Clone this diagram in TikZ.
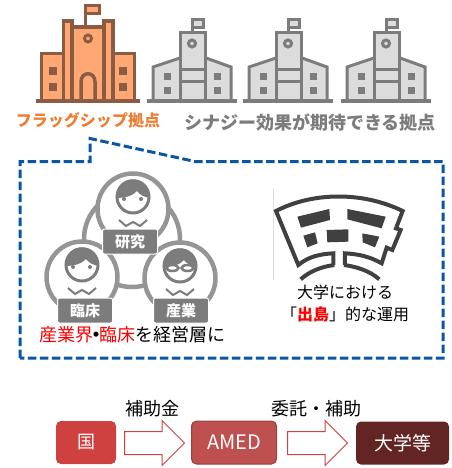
\documentclass[tikz,border=0pt]{standalone}
\usepackage{fontspec}
\setmainfont{Noto Sans CJK JP}
\usetikzlibrary{shapes.arrows}

\definecolor{hubfill}{HTML}{FFA873}
\definecolor{hubline}{HTML}{8B5B43}
\definecolor{hubtext}{HTML}{ED7D31}
\definecolor{subfill}{HTML}{DCDCDC}
\definecolor{subline}{HTML}{7C7C7C}
\definecolor{ringgray}{HTML}{959595}
\definecolor{calloutblue}{HTML}{0B55A5}
\definecolor{flagred}{HTML}{CF4040}
\definecolor{amedred}{HTML}{BE5050}
\definecolor{darkred}{HTML}{632523}

\tikzset{
    rolebox/.style={fill=subline,draw=white,line width=1pt,rounded corners=2pt,minimum width=55pt,minimum height=25pt,inner sep=0pt,text=white,font=\fontsize{15}{18}\selectfont\bfseries},
    flowbox/.style={rounded corners=5pt,inner sep=0pt,minimum height=43pt,text=white},
    flowarrow/.style={shape=single arrow,draw=flagred,fill=white,line width=1pt,minimum height=60pt,single arrow head extend=11pt,inner sep=0pt,anchor=west}
}

\begin{document}
\begin{tikzpicture}[x=1pt,y=-1pt,line join=miter]
\useasboundingbox (0,0) rectangle (451,468);

% Flagship building
\fill[hubfill] (40,53) rectangle (136,100);
\draw[hubline,line width=3.5pt,fill=hubfill] (41.5,100) -- (41.5,53.5) -- (134.5,53.5) -- (134.5,100);
\draw[hubline,line width=3.5pt,fill=hubfill] (63.5,100) -- (63.5,21) -- (72,21) -- (72,100);
\draw[hubline,line width=3.5pt,fill=hubfill] (104,100) -- (104,21) -- (113,21) -- (113,100);
\draw[hubline,line width=3.5pt,fill=hubfill] (72,100) -- (72,27) -- (104,27) -- (104,100);
\draw[hubline,line width=3pt] (85.5,27) -- (85.5,6);
\draw[hubline,line width=3pt,fill=hubfill] (85.5,6) rectangle (99,14);
\draw[hubline,line width=3pt] (88,38.5) circle[radius=3.5];
\draw[hubline,line width=3.5pt] (81,100) -- (81,82) .. controls (81,71) and (95,71) .. (95,82) -- (95,100);
\foreach \x in {49,119} {
    \fill[hubline] (\x,67) rectangle (\x+8,75);
    \fill[hubline] (\x,83) rectangle (\x+8,91.5);
}
\fill[hubline] (36,99) rectangle (140,103);

% Synergy buildings
\foreach \x in {0,96,194} {
    \begin{scope}[shift={(\x,0)}]
    \draw[subline,line width=3pt,fill=subfill] (153,100) -- (153,67) -- (180,58) -- (206,58) -- (231,67) -- (231,100);
    \draw[subline,line width=3pt,fill=subfill] (180,100) -- (180,33) -- (205,33) -- (205,100);
    \draw[subline,line width=3pt] (180,69.5) -- (205,69.5);
    \draw[subline,line width=3pt] (180,81.5) -- (205,81.5);
    \draw[subline,line width=3pt] (192.5,33) -- (192.5,19);
    \draw[subline,line width=3pt,fill=subfill] (192.5,19.5) rectangle (203,28);
    \draw[subline,line width=3pt] (192,43.5) circle[radius=3.5];
    \fill[subline] (164,73) rectangle (171,80);
    \fill[subline] (164,87.5) rectangle (171,94.5);
    \fill[subline] (214,73) rectangle (221,80);
    \fill[subline] (214,87.5) rectangle (221,94.5);
    \fill[subline] (147,99) rectangle (237,103);
    \end{scope}
}

% Site labels
\node[text=hubtext,font=\fontsize{16}{20}\selectfont\bfseries] (flagship) at (88,120) {フラッグシップ拠点};
\node[text=subline,font=\fontsize{18}{22}\selectfont\bfseries] (synergy) at (310,122) {シナジー効果が期待できる拠点};

% Callout
\draw[calloutblue,line width=3pt,dash pattern=on 8.5pt off 3.5pt] (20,358) -- (20,161.5) -- (90,161.5) -- (90,138.5) -- (195,161.5) -- (443,161.5) -- (443,358) -- cycle;

% Linking ring behind the people
\draw[ringgray,line width=4.5pt] (132,239) circle[radius=48];

% People
\foreach \x/\y in {133/209,82/277,180/278} {
    \begin{scope}[shift={(\x,\y)}]
    \draw[ringgray,line width=4.5pt,fill=white] (0,0) circle[radius=35.5];
    \draw[subline,line width=3pt,fill=white] (0,-12) circle[radius=16];
    \fill[subline] (-17,-11) .. controls (-18,-36) and (18,-36) .. (17,-11) .. controls (11,-12) and (7,-14) .. (4,-18) .. controls (0,-13) and (-9,-11) .. (-17,-11);
    \draw[subline,line width=2pt] (-14,11) -- (-7,17) -- (0,13) -- (7,17) -- (14,11);
    \end{scope}
}
% Eyes, the third person has glasses
\foreach \x/\y in {124/199,141/199,73/267,90/267} {
    \fill[subline] (\x,\y) circle[radius=2];
}
\draw[subline,line width=2.5pt,fill=white] (172.5,268) ellipse[x radius=6,y radius=3];
\draw[subline,line width=2.5pt,fill=white] (187.5,268) ellipse[x radius=6,y radius=3];

% Role labels
\node[rolebox] (research) at (130,241.5) {研究};
\node[rolebox] (clinic) at (85,310.5) {臨床};
\node[rolebox] (industry) at (181,310.5) {産業};
\node[font=\fontsize{18}{20}\selectfont] (boardnote) at (132,335) {\textcolor{red}{産業界}\hspace{-6pt}\textbf{・}\hspace{-6pt}\textcolor{red}{臨床}を経営層に};

% Campus plan
\draw[gray!25,line width=0.8pt] (273,188) -- (273,280);
\begin{scope}[shift={(270,185)},x=0.3333pt,y=-0.3333pt]
\draw[black!75,line width=4pt] (190,240) -- (190,205) .. controls (150,207) and (115,215) .. (85,240) -- (18,78) .. controls (130,20) and (280,20) .. (398,78) -- (378,130) -- (392,135) -- (367,195) -- (350,188) -- (335,235) .. controls (300,215) and (265,207) .. (225,205) -- (225,240);
\draw[black!75,line width=4pt] (193,240) .. controls (155,245) and (120,258) .. (92,283);
\draw[black!75,line width=4pt] (222,240) .. controls (260,245) and (300,258) .. (328,283);
\fill[black!75] (82,95) -- (178,72) -- (180,105) -- (93,128) -- cycle;
\fill[black!75] (232,72) -- (347,95) -- (335,130) -- (232,103) -- cycle;
\fill[black!75] (100,152) -- (135,142) -- (143,175) -- (112,187) -- cycle;
\fill[black!75] (170,135) -- (235,133) -- (235,170) -- (172,172) -- cycle;
\fill[black!75] (277,145) -- (328,155) -- (315,187) -- (278,172) -- cycle;
\end{scope}
\node[font=\fontsize{16}{22}\selectfont,align=center] (campusnote) at (345,304) {大学における\\「\textcolor{red}{\textbf{出島}}」的な運用};

% Funding flow
\node[flowbox,fill=flagred,minimum width=60pt,font=\fontsize{18}{22}\selectfont] (state) at (86,442.5) {国};
\node[flowarrow] (grantarrow) at (124,443) {\rule{0pt}{22pt}};
\node[flowbox,fill=amedred,draw=amedred!80!black,line width=1pt,minimum width=85pt,font=\fontsize{20}{22}\selectfont] (amed) at (234,442.5) {AMED};
\node[flowarrow] (entrustarrow) at (287,443) {\rule{0pt}{22pt}};
\node[flowbox,fill=darkred,minimum width=93pt,font=\fontsize{19}{22}\selectfont] (univ) at (402.5,443) {大学等};
\node[font=\fontsize{18}{22}\selectfont] (grantlabel) at (152,409) {補助金};
\node[font=\fontsize{18}{22}\selectfont] (entrustlabel) at (316,409) {委託・補助};

\end{tikzpicture}
\end{document}
